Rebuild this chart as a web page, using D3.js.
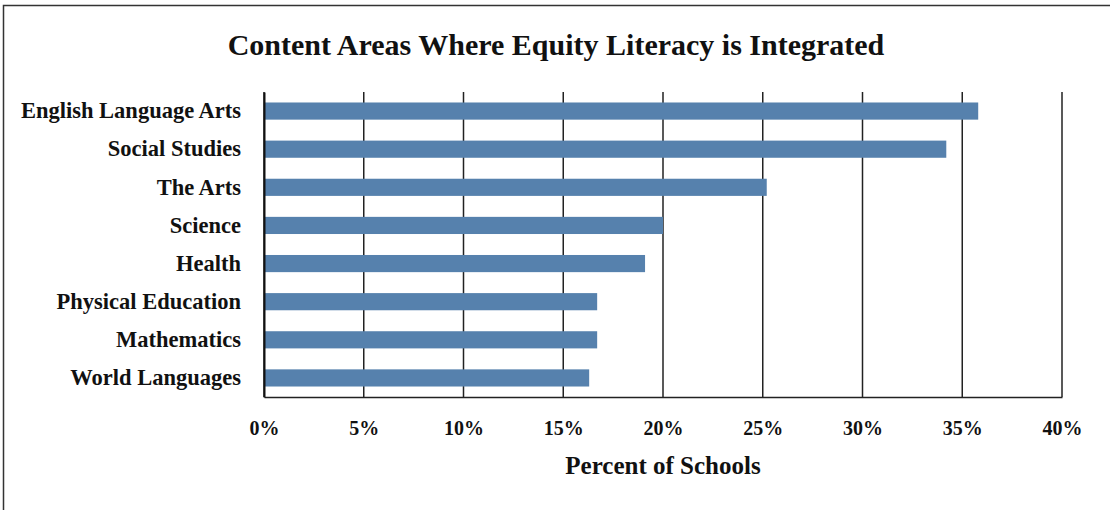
<!DOCTYPE html>
<html><head><meta charset="utf-8">
<script src="https://cdn.jsdelivr.net/npm/d3@7"></script>
<style>body{margin:0;background:#fff}svg{display:block}</style>
</head><body>
<svg id="c" width="1110" height="510"></svg>
<script>
const categories = ["English Language Arts","Social Studies","The Arts","Science","Health","Physical Education","Mathematics","World Languages"];
const values = [35.8, 34.2, 25.2, 20.0, 19.1, 16.7, 16.7, 16.3];
const tickValues = [0,5,10,15,20,25,30,35,40];
const title = "Content Areas Where Equity Literacy is Integrated";
const xTitle = "Percent of Schools";

const svg = d3.select("#c");
const font = "'Liberation Serif', 'DejaVu Serif', serif";
const L = 264, R = 1062, T = 92, B = 397;

svg.append("rect").attr("x",3.5).attr("y",5.5).attr("width",1120).attr("height",520)
  .attr("fill","#fff").attr("stroke","#333").attr("stroke-width",1.5);

const x = d3.scaleLinear().domain([0,40]).range([L,R]);
const y = d3.scaleBand().domain(categories).range([T,B]).paddingInner(0.55).paddingOuter(0.275);

// gridlines
svg.append("g").selectAll("line").data(tickValues).join("line")
  .attr("x1",d=>x(d)).attr("x2",d=>x(d)).attr("y1",T).attr("y2",B)
  .attr("stroke","#222").attr("stroke-width",1.5);

// bars
svg.append("g").selectAll("rect").data(values).join("rect")
  .attr("x",x(0)).attr("y",(d,i)=>y(categories[i]))
  .attr("width",d=>x(d)-x(0)).attr("height",y.bandwidth())
  .attr("fill","#5681ad");

// bottom axis
const xa = svg.append("g").attr("transform",`translate(0,${B})`)
  .call(d3.axisBottom(x).tickValues(tickValues).tickSize(0).tickPadding(24).tickFormat(d=>d+"%"));
xa.select(".domain").attr("stroke","#222").attr("stroke-width",1.5);
xa.selectAll("text").attr("font-family",font).attr("font-weight","bold").attr("font-size",20).attr("fill","#111");

// left axis
const ya = svg.append("g").attr("transform",`translate(${L},0)`)
  .call(d3.axisLeft(y).tickSize(0).tickPadding(23));
ya.select(".domain").attr("stroke","#111").attr("stroke-width",2);
ya.selectAll("text").attr("font-family",font).attr("font-weight","bold").attr("font-size",22.5).attr("fill","#111");

svg.append("text").attr("x",556).attr("y",55).attr("text-anchor","middle")
  .attr("font-family",font).attr("font-weight","bold").attr("font-size",30).attr("fill","#111").text(title);
svg.append("text").attr("x",663).attr("y",474).attr("text-anchor","middle")
  .attr("font-family",font).attr("font-weight","bold").attr("font-size",25).attr("fill","#111").text(xTitle);
</script>
</body></html>
